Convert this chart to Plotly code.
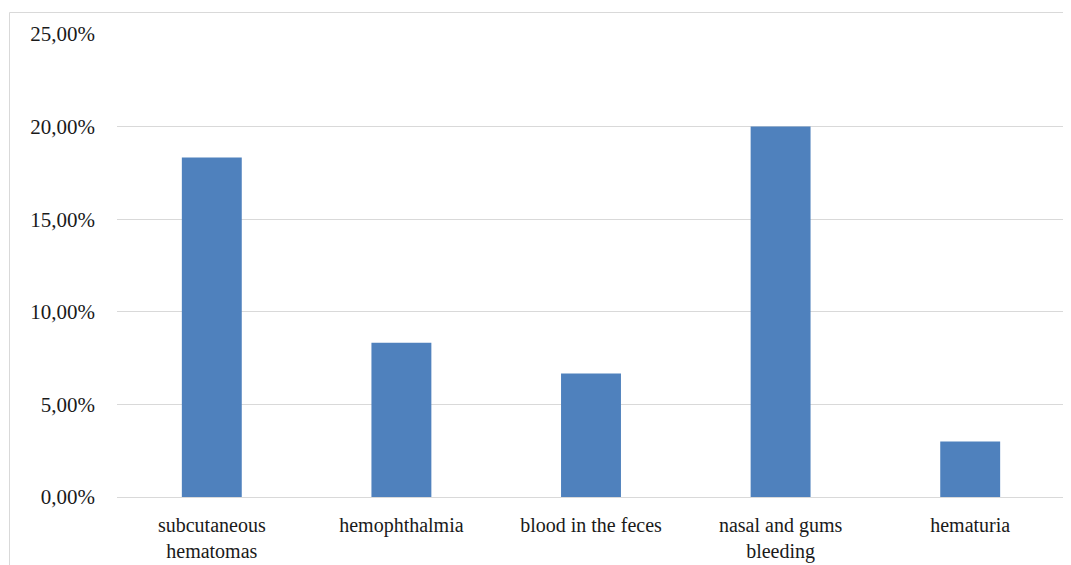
import plotly.graph_objects as go

categories = ["subcutaneous<br>hematomas", "hemophthalmia", "blood in the feces",
              "nasal and gums<br>bleeding", "hematuria"]
values = [0.1833, 0.0833, 0.0667, 0.20, 0.030]
y_ticks = [0, 0.05, 0.10, 0.15, 0.20, 0.25]

# page body has an 8px margin; figure is sized to fit the 1071x565 window
OFF = 8
W, H = 1071 - OFF, 565 - OFF
L, R, T, B = 117 - OFF, 6, 34 - OFF, 68
pw = W - L - R
ph = H - T - B

def px_x(x):
    return (x - L) / pw

def px_y(y):
    return (ph + T - y) / ph

border = dict(color="#d9d9d9", width=1)
fig = go.Figure(go.Bar(x=categories, y=values, marker_color="#4f81bd",
                       marker_line_width=0, hoverinfo="x+y"))

fig.update_layout(
    width=W, height=H,
    margin=dict(l=L, r=R, t=T, b=B, autoexpand=False),
    plot_bgcolor="white", paper_bgcolor="white",
    separators=",.",
    bargap=0.684,
    showlegend=False,
    font=dict(family="Liberation Serif", size=21, color="#1a1a1a"),
    shapes=[
        dict(type="line", xref="paper", yref="paper", x0=px_x(1.5), x1=px_x(W + 20),
             y0=px_y(4.5), y1=px_y(4.5), line=border, layer="below"),
        dict(type="line", xref="paper", yref="paper", x0=px_x(1.5), x1=px_x(1.5),
             y0=px_y(4.5), y1=px_y(H + 20), line=border, layer="below"),
    ],
)
fig.update_yaxes(range=[0, 0.25], tickvals=y_ticks, tickformat=".2%",
                 showgrid=True, gridcolor="#d9d9d9", gridwidth=1,
                 zeroline=False, showline=False, ticks="", automargin=False,
                 ticklabelstandoff=21, tickfont=dict(size=21))
fig.update_xaxes(showline=True, linecolor="#d9d9d9", linewidth=1, ticks="",
                 automargin=False,
                 ticklabelstandoff=10, tickfont=dict(size=20), tickangle=0)

fig.write_html("out.html")
